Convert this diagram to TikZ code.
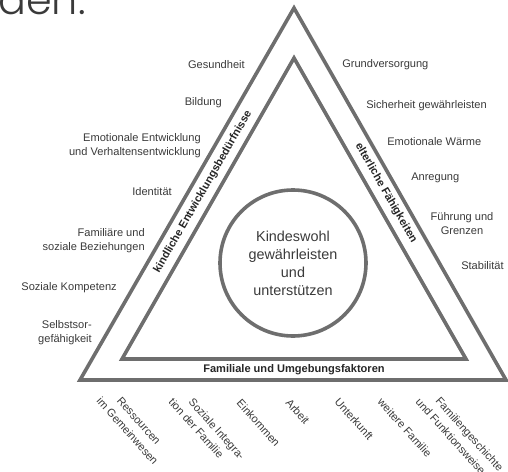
\documentclass[tikz,border=0pt]{standalone}
\usepackage{fontspec}
\setmainfont{Liberation Sans}
\newfontfamily\headfont{Poppins Light}
\definecolor{framegray}{HTML}{6E6E6E}
\definecolor{labelgray}{HTML}{3A3A3A}
\tikzset{
  band/.style={draw=framegray, line width=2.7pt, line join=miter},
  lbl/.style={font=\fontsize{8.3}{10.5}\selectfont, text=labelgray, inner sep=0pt},
  sidelbl/.style={font=\fontsize{8.3}{10}\selectfont\bfseries, text=black!85, inner sep=0pt},
  foot/.style={lbl, rotate=-48, anchor=north west}
}
\begin{document}
\begin{tikzpicture}[x=0.75pt, y=-0.75pt]
        \useasboundingbox (0,0) rectangle (508,472);
        \node [font=\headfont\fontsize{31}{31}\selectfont, text=labelgray, anchor=base west, inner sep=0pt] (den) at (-2,14) {den.};
        \coordinate (OT) at (294,8);
        \coordinate (OL) at (80,380);
        \coordinate (OR) at (506,380);
        \coordinate (IT) at (294,58);
        \coordinate (IL) at (122,359);
        \coordinate (IR) at (466,359);
        \draw [band] (OT) -- (OR) -- (OL) -- cycle;
        \draw [band] (IT) -- (IR) -- (IL) -- cycle;
        \node [circle, draw=framegray, line width=2.7pt, minimum size=109.5pt, align=center,
               font=\fontsize{10.8}{13.5}\selectfont, text=labelgray] (wohl) at (293,263)
               {Kindeswohl\\gewährleisten\\und\\unterstützen};
        \node [lbl, anchor=east] (gesund) at (245,65) {Gesundheit};
        \node [lbl, anchor=east] (bildung) at (222,103) {Bildung};
        \node [lbl, anchor=east, align=right] (emo) at (201,146) {Emotionale Entwicklung\\und Verhaltensentwicklung};
        \node [lbl, anchor=east] (ident) at (172,192) {Identität};
        \node [lbl, anchor=east, align=right] (famil) at (145,241) {Familiäre und\\soziale Beziehungen};
        \node [lbl, anchor=east] (kompet) at (117,288) {Soziale Kompetenz};
        \node [lbl, anchor=east, align=right] (selbst) at (92,333) {Selbstsor-\\gefähigkeit};
        \node [lbl, anchor=west] (grund) at (342,65) {Grundversorgung};
        \node [lbl, anchor=west] (sicher) at (366,106) {Sicherheit gewährleisten};
        \node [lbl, anchor=west] (waerme) at (387,142) {Emotionale Wärme};
        \node [lbl, anchor=west] (anreg) at (411,178) {Anregung};
        \node [lbl, align=center] (fuehr) at (462,224) {Führung und\\Grenzen};
        \node [lbl, anchor=west] (stabil) at (461,266) {Stabilität};
        \node [sidelbl, rotate=60] (kind) at (203,192) {kindliche Entwicklungsbedürfnisse};
        \node [sidelbl, rotate=-60] (eltern) at (386,193) {elterliche Fähigkeiten};
        \node [sidelbl] (umgeb) at (294,370) {Familiale und Umgebungsfaktoren};
        \node [foot] (ressA) at (122,396) {Ressourcen};
        \node [foot] (ressB) at (102,396) {im Gemeinwesen};
        \node [foot] (sozA) at (194,397) {Soziale Integra-};
        \node [foot] (sozB) at (174,397) {tion der Familie};
        \node [foot] (eink) at (242,398) {Einkommen};
        \node [foot] (arbeit) at (291,398) {Arbeit};
        \node [foot] (unterk) at (340,397) {Unterkunft};
        \node [foot] (weiter) at (383,397) {weitere Familie};
        \node [foot] (geschA) at (441,396) {Familiengeschichte};
        \node [foot] (geschB) at (421,397) {und Funktionsweise};
\end{tikzpicture}
\end{document}
